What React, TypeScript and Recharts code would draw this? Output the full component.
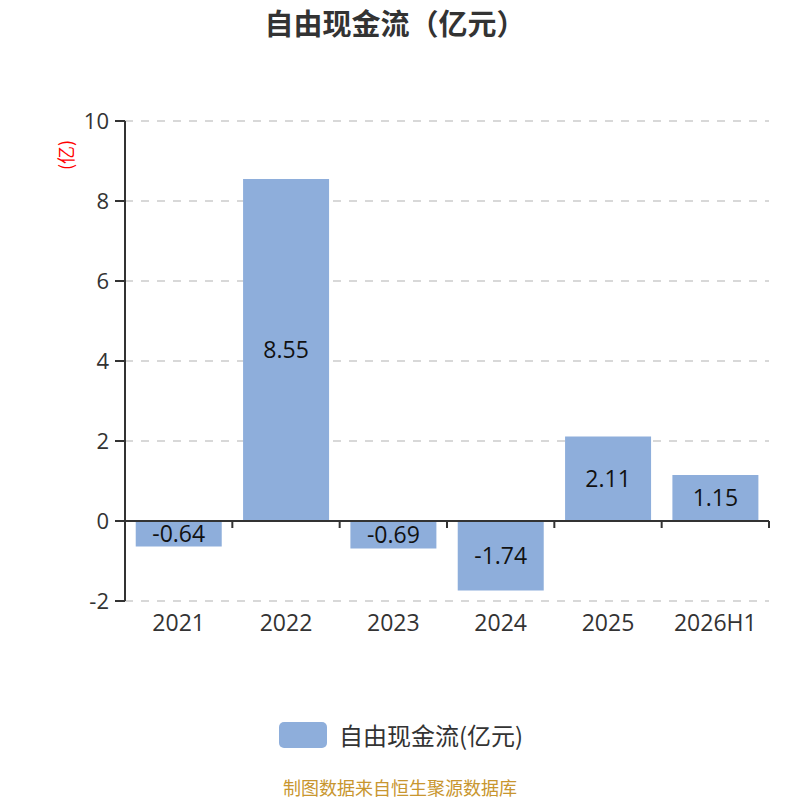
import {
  Bar,
  BarChart,
  CartesianGrid,
  LabelList,
  ReferenceLine,
  XAxis,
  YAxis,
} from "recharts";

const years = ["2021", "2022", "2023", "2024", "2025", "2026H1"];
const fcf = [-0.64, 8.55, -0.69, -1.74, 2.11, 1.15];
const yTicks = [-2, 0, 2, 4, 6, 8, 10];

const data = years.map((year, i) => ({ year, fcf: fcf[i] }));

const FONT = '"Open Sans", "Noto Sans CJK SC", sans-serif';
const CJK = '"Noto Sans CJK SC", sans-serif';
const BAR = "#8eaedb";
const AXIS = "#333333";

// 零轴：横线 + 每个类目边界的下垂刻度
function ZeroAxis(props: any) {
  const { x1, y1, x2 } = props;
  const step = (x2 - x1) / years.length;
  return (
    <g>
      <line x1={x1} y1={y1} x2={x2} y2={y1} stroke={AXIS} strokeWidth={2} />
      {years.map((_, i) => (
        <line
          key={i}
          x1={x1 + step * (i + 1)}
          x2={x1 + step * (i + 1)}
          y1={y1}
          y2={y1 + 7}
          stroke={AXIS}
          strokeWidth={2}
        />
      ))}
    </g>
  );
}

export default function App() {
  return (
    <div
      style={{
        position: "absolute",
        left: 0,
        top: 0,
        width: 800,
        height: 800,
        background: "#fff",
        fontFamily: CJK,
      }}
    >
      <div
        style={{
          position: "absolute",
          top: 8,
          left: 0,
          width: 790,
          textAlign: "center",
          fontSize: 29,
          lineHeight: 1,
          fontWeight: "bold",
          color: "#333",
        }}
      >
        自由现金流（亿元）
      </div>
      <BarChart
        width={800}
        height={800}
        data={data}
        margin={{ top: 121, right: 31, left: 0, bottom: 159 }}
        barCategoryGap="10%"
      >
        <CartesianGrid
          vertical={false}
          stroke="#cccccc"
          strokeDasharray="8 8"
          strokeWidth={1.5}
        />
        <XAxis
          dataKey="year"
          axisLine={false}
          tickLine={false}
          height={40}
          interval={0}
          tick={{ fontSize: 23, fill: AXIS, fontFamily: FONT }}
          dy={6}
        />
        <YAxis
          domain={[-2, 10]}
          ticks={yTicks}
          width={125}
          tickSize={10}
          tickMargin={6}
          axisLine={{ stroke: AXIS, strokeWidth: 2 }}
          tickLine={{ stroke: AXIS, strokeWidth: 2 }}
          tick={{ fontSize: 22, fill: AXIS, fontFamily: FONT }}
          label={(p: any) => (
            <text
              x={p.viewBox.x + 65}
              y={p.viewBox.y + 34}
              transform={`rotate(-90 ${p.viewBox.x + 65} ${p.viewBox.y + 34})`}
              textAnchor="middle"
              dominantBaseline="central"
              fill="#ff0000"
              fontSize={18}
              fontFamily={CJK}
            >
              (亿)
            </text>
          )}
        />
        <Bar dataKey="fcf" fill={BAR} isAnimationActive={false}>
          <LabelList
            dataKey="fcf"
            position="center"
            fill="#111"
            fontSize={23}
            fontFamily={FONT}
          />
        </Bar>
        <ReferenceLine y={0} shape={ZeroAxis} />
      </BarChart>
      <div
        style={{
          position: "absolute",
          top: 722,
          left: 279,
          height: 26,
          display: "flex",
          alignItems: "center",
          gap: 12,
          fontSize: 24,
          lineHeight: 1,
          color: "#333",
        }}
      >
        <span
          style={{
            width: 48,
            height: 26,
            borderRadius: 5,
            background: BAR,
            display: "inline-block",
          }}
        />
        <span>自由现金流(亿元)</span>
      </div>
      <div
        style={{
          position: "absolute",
          top: 778,
          left: 0,
          width: 800,
          textAlign: "center",
          fontSize: 18,
          lineHeight: 1,
          color: "#c8962f",
        }}
      >
        制图数据来自恒生聚源数据库
      </div>
    </div>
  );
}
